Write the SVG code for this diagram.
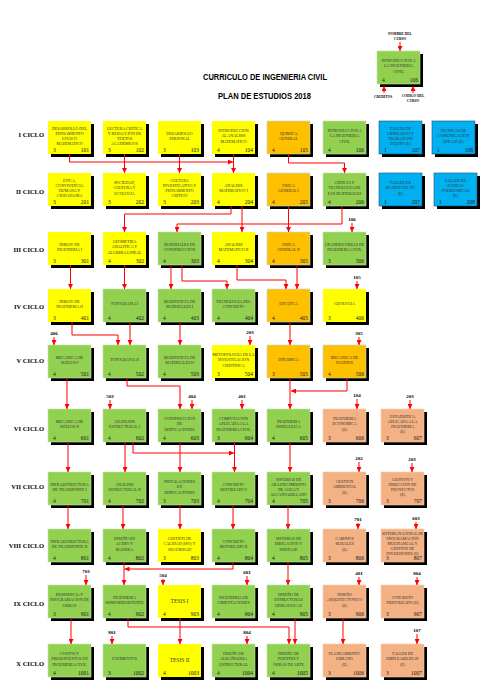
<svg xmlns="http://www.w3.org/2000/svg" width="495" height="696" viewBox="0 0 495 696">
<style>
.sh{fill:#000}
.y{fill:#FFFF00}
.o{fill:#FFC000;stroke:#BDD7EE;stroke-width:0.6}
.g{fill:#92D050;stroke:#C5E0B4;stroke-width:0.6}
.b{fill:#00B0F0;stroke:#1F4E79;stroke-width:0.6}
.s{fill:#F4B183;stroke:#F8CBAD;stroke-width:0.6}
text{font-family:"Liberation Serif","Times New Roman",serif}
.n{font-size:4px;fill:#333;text-anchor:middle}
.t{font-size:5.5px;fill:#333;text-anchor:middle}
.cr{font-size:5.5px;fill:#222}
.cd{font-size:5.5px;fill:#222;text-anchor:end}
.cy{font-size:6.5px;font-weight:bold;fill:#000;text-anchor:end}
.pl{font-size:5px;font-weight:bold;fill:#000;text-anchor:middle}
.lg{font-size:3.5px;font-weight:bold;fill:#000;text-anchor:middle}
.ti{font-family:"Liberation Sans",Arial,sans-serif;font-size:9.5px;font-weight:bold;fill:#000}
.ln{fill:none;stroke:#FF0000;stroke-width:1;marker-end:url(#ah)}
</style>
<defs>
<marker id="ah" markerUnits="userSpaceOnUse" markerWidth="5" markerHeight="5" refX="5" refY="2.5" orient="auto"><path d="M0,0 L5,2.5 L0,5 z" fill="#FF0000"/></marker>
</defs>
<rect width="495" height="696" fill="#fff"/>

<g id="titles">
<text class="ti" x="203" y="80" textLength="124" lengthAdjust="spacingAndGlyphs">CURRICULO DE INGENIERIA CIVIL</text>
<text class="ti" x="218" y="99" textLength="93" lengthAdjust="spacingAndGlyphs">PLAN DE ESTUDIOS 2018</text>
</g>

<g id="legend">
<text class="lg" x="400" y="35">NOMBRE DEL</text><text class="lg" x="400" y="40">CURSO</text>
<rect class="sh" x="380" y="54" width="43" height="33"/><rect class="g" x="377" y="51" width="43" height="33"/>
<text class="n"><tspan x="398.5" y="62.2">INTRODUCCION A</tspan><tspan x="398.5" y="67.4">LA INGENIERIA</tspan><tspan x="398.5" y="72.6">CIVIL</tspan></text>
<text class="cr" x="382" y="81.5">4</text><text class="cd" x="418" y="81.5">106</text>
<text class="lg" x="383" y="98">CREDITOS</text>
<text class="lg" x="413" y="97">CODIGO DEL</text><text class="lg" x="413" y="102">CURSO</text>
</g>

<g id="cycles">
<text class="cy" x="44" y="137">I CICLO</text>
<text class="cy" x="44" y="194">II CICLO</text>
<text class="cy" x="44" y="252">III CICLO</text>
<text class="cy" x="44" y="309">IV CICLO</text>
<text class="cy" x="44" y="363">V CICLO</text>
<text class="cy" x="44" y="431">VI CICLO</text>
<text class="cy" x="44" y="489">VII CICLO</text>
<text class="cy" x="44" y="548">VIII CICLO</text>
<text class="cy" x="44" y="606">IX CICLO</text>
<text class="cy" x="44" y="666">X CICLO</text>
</g>

<!-- Row I -->
<g id="n101"><rect class="sh" x="51" y="124" width="43" height="33"/><rect class="y" x="48" y="121" width="43" height="33"/><text class="n"><tspan x="69.5" y="129.6">DESARROLLO DEL</tspan><tspan x="69.5" y="134.8">PENSAMIENTO</tspan><tspan x="69.5" y="140">LOGICO</tspan><tspan x="69.5" y="145.2">MATEMATICO</tspan></text><text class="cr" x="53" y="151.5">3</text><text class="cd" x="89" y="151.5">101</text></g>
<g id="n102"><rect class="sh" x="106" y="124" width="43" height="33"/><rect class="y" x="103" y="121" width="43" height="33"/><text class="n"><tspan x="124.5" y="129.6">LECTURA CRÍTICA</tspan><tspan x="124.5" y="134.8">Y REDACCIÓN DE</tspan><tspan x="124.5" y="140">TEXTOS</tspan><tspan x="124.5" y="145.2">ACADÉMICOS</tspan></text><text class="cr" x="108" y="151.5">3</text><text class="cd" x="144" y="151.5">102</text></g>
<g id="n103"><rect class="sh" x="161" y="124" width="43" height="33"/><rect class="y" x="158" y="121" width="43" height="33"/><text class="n"><tspan x="179.5" y="134.8">DESARROLLO</tspan><tspan x="179.5" y="140">PERSONAL</tspan></text><text class="cr" x="163" y="151.5">3</text><text class="cd" x="199" y="151.5">103</text></g>
<g id="n104"><rect class="sh" x="215" y="124" width="43" height="33"/><rect class="y" x="212" y="121" width="43" height="33"/><text class="n"><tspan x="233.5" y="132.2">INTRODUCCION</tspan><tspan x="233.5" y="137.4">AL ANALISIS</tspan><tspan x="233.5" y="142.6">MATEMATICO</tspan></text><text class="cr" x="217" y="151.5">4</text><text class="cd" x="253" y="151.5">104</text></g>
<g id="n105"><rect class="sh" x="270" y="124" width="43" height="33"/><rect class="o" x="267" y="121" width="43" height="33"/><text class="n"><tspan x="288.5" y="134.8">QUIMICA</tspan><tspan x="288.5" y="140">GENERAL</tspan></text><text class="cr" x="272" y="151.5">4</text><text class="cd" x="308" y="151.5">105</text></g>
<g id="n106"><rect class="sh" x="326" y="124" width="43" height="33"/><rect class="g" x="323" y="121" width="43" height="33"/><text class="n"><tspan x="344.5" y="132.2">INTRODUCCION A</tspan><tspan x="344.5" y="137.4">LA INGENIERIA</tspan><tspan x="344.5" y="142.6">CIVIL</tspan></text><text class="cr" x="328" y="151.5">4</text><text class="cd" x="364" y="151.5">106</text></g>
<g id="n107"><rect class="sh" x="382" y="124" width="43" height="33"/><rect class="b" x="379" y="121" width="43" height="33"/><text class="n"><tspan x="400.5" y="129.6">TALLER DE</tspan><tspan x="400.5" y="134.8">LIDERAZGO Y</tspan><tspan x="400.5" y="140">TRABAJO EN</tspan><tspan x="400.5" y="145.2">EQUIPO (E)</tspan></text><text class="cr" x="384" y="151.5">1</text><text class="cd" x="420" y="151.5">107</text></g>
<g id="n108"><rect class="sh" x="435" y="124" width="43" height="33"/><rect class="b" x="432" y="121" width="43" height="33"/><text class="n"><tspan x="453.5" y="132.2">TECNICAS DE</tspan><tspan x="453.5" y="137.4">COMUNICACION</tspan><tspan x="453.5" y="142.6">EFICAZ (E)</tspan></text><text class="cr" x="437" y="151.5">1</text><text class="cd" x="473" y="151.5">108</text></g>

<!-- Row II -->
<g id="n201"><rect class="sh" x="51" y="176" width="43" height="33"/><rect class="y" x="48" y="173" width="43" height="33"/><text class="n"><tspan x="69.5" y="181.6">ÉTICA,</tspan><tspan x="69.5" y="186.8">CONVIVENCIA</tspan><tspan x="69.5" y="192">HUMANA Y</tspan><tspan x="69.5" y="197.2">CIUDADANÍA</tspan></text><text class="cr" x="53" y="203.5">3</text><text class="cd" x="89" y="203.5">201</text></g>
<g id="n202"><rect class="sh" x="106" y="176" width="43" height="33"/><rect class="y" x="103" y="173" width="43" height="33"/><text class="n"><tspan x="124.5" y="184.2">SOCIEDAD,</tspan><tspan x="124.5" y="189.4">CULTURA Y</tspan><tspan x="124.5" y="194.6">ECOLOGÍA</tspan></text><text class="cr" x="108" y="203.5">3</text><text class="cd" x="144" y="203.5">202</text></g>
<g id="n203"><rect class="sh" x="161" y="176" width="43" height="33"/><rect class="y" x="158" y="173" width="43" height="33"/><text class="n"><tspan x="179.5" y="181.6">CULTURA</tspan><tspan x="179.5" y="186.8">INVESTIGATIVA Y</tspan><tspan x="179.5" y="192">PENSAMIENTO</tspan><tspan x="179.5" y="197.2">CRÍTICO</tspan></text><text class="cr" x="163" y="203.5">3</text><text class="cd" x="199" y="203.5">203</text></g>
<g id="n204"><rect class="sh" x="215" y="176" width="43" height="33"/><rect class="y" x="212" y="173" width="43" height="33"/><text class="n"><tspan x="233.5" y="186.8">ANALISIS</tspan><tspan x="233.5" y="192">MATEMATICO I</tspan></text><text class="cr" x="217" y="203.5">4</text><text class="cd" x="253" y="203.5">204</text></g>
<g id="n205"><rect class="sh" x="270" y="176" width="43" height="33"/><rect class="o" x="267" y="173" width="43" height="33"/><text class="n"><tspan x="288.5" y="186.8">FISICA</tspan><tspan x="288.5" y="192">GENERAL I</tspan></text><text class="cr" x="272" y="203.5">4</text><text class="cd" x="308" y="203.5">205</text></g>
<g id="n206"><rect class="sh" x="326" y="176" width="43" height="33"/><rect class="g" x="323" y="173" width="43" height="33"/><text class="n"><tspan x="344.5" y="184.2">CIENCIA Y</tspan><tspan x="344.5" y="189.4">TECNOLOGÍA DE</tspan><tspan x="344.5" y="194.6">LOS MATERIALES</tspan></text><text class="cr" x="328" y="203.5">4</text><text class="cd" x="364" y="203.5">206</text></g>
<g id="n207"><rect class="sh" x="382" y="176" width="43" height="33"/><rect class="b" x="379" y="173" width="43" height="33"/><text class="n"><tspan x="400.5" y="184.2">TALLER DE</tspan><tspan x="400.5" y="189.4">MANEJO DE TIC</tspan><tspan x="400.5" y="194.6">(E)</tspan></text><text class="cr" x="384" y="203.5">1</text><text class="cd" x="420" y="203.5">207</text></g>
<g id="n208"><rect class="sh" x="437" y="176" width="43" height="33"/><rect class="b" x="434" y="173" width="43" height="33"/><text class="n"><tspan x="455.5" y="181.6">TALLER DE</tspan><tspan x="455.5" y="186.8">DANZAS</tspan><tspan x="455.5" y="192">FOLKLORICAS</tspan><tspan x="455.5" y="197.2">(E)</tspan></text><text class="cr" x="439" y="203.5">1</text><text class="cd" x="475" y="203.5">208</text></g>

<!-- Row III -->
<g id="n301"><rect class="sh" x="51" y="235" width="43" height="33"/><rect class="y" x="48" y="232" width="43" height="33"/><text class="n"><tspan x="69.5" y="245.8">DIBUJO DE</tspan><tspan x="69.5" y="251">INGENIERIA I</tspan></text><text class="cr" x="53" y="262.5">3</text><text class="cd" x="89" y="262.5">301</text></g>
<g id="n302"><rect class="sh" x="106" y="235" width="43" height="33"/><rect class="y" x="103" y="232" width="43" height="33"/><text class="n"><tspan x="124.5" y="243.2">GEOMETRIA</tspan><tspan x="124.5" y="248.4">ANALITICA Y</tspan><tspan x="124.5" y="253.6">ALGEBRA LINEAL</tspan></text><text class="cr" x="108" y="262.5">4</text><text class="cd" x="144" y="262.5">302</text></g>
<g id="n303"><rect class="sh" x="161" y="235" width="43" height="33"/><rect class="g" x="158" y="232" width="43" height="33"/><text class="n"><tspan x="179.5" y="245.8">MATERIALES DE</tspan><tspan x="179.5" y="251">CONSTRUCCION</tspan></text><text class="cr" x="163" y="262.5">4</text><text class="cd" x="199" y="262.5">303</text></g>
<g id="n304"><rect class="sh" x="215" y="235" width="43" height="33"/><rect class="y" x="212" y="232" width="43" height="33"/><text class="n"><tspan x="233.5" y="245.8">ANALISIS</tspan><tspan x="233.5" y="251">MATEMATICO II</tspan></text><text class="cr" x="217" y="262.5">4</text><text class="cd" x="253" y="262.5">304</text></g>
<g id="n305"><rect class="sh" x="270" y="235" width="43" height="33"/><rect class="o" x="267" y="232" width="43" height="33"/><text class="n"><tspan x="288.5" y="245.8">FISICA</tspan><tspan x="288.5" y="251">GENERAL II</tspan></text><text class="cr" x="272" y="262.5">4</text><text class="cd" x="308" y="262.5">305</text></g>
<g id="n306"><rect class="sh" x="326" y="235" width="43" height="33"/><rect class="g" x="323" y="232" width="43" height="33"/><text class="n"><tspan x="344.5" y="245.8">GRANDES OBRAS DE</tspan><tspan x="344.5" y="251">INGENIERIA CIVIL</tspan></text><text class="cr" x="328" y="262.5">3</text><text class="cd" x="364" y="262.5">306</text></g>

<!-- Row IV -->
<g id="n401"><rect class="sh" x="51" y="292" width="43" height="33"/><rect class="y" x="48" y="289" width="43" height="33"/><text class="n"><tspan x="69.5" y="302.8">DIBUJO DE</tspan><tspan x="69.5" y="308">INGENIERIA II</tspan></text><text class="cr" x="53" y="319.5">3</text><text class="cd" x="89" y="319.5">401</text></g>
<g id="n402"><rect class="sh" x="106" y="292" width="43" height="33"/><rect class="g" x="103" y="289" width="43" height="33"/><text class="n"><tspan x="124.5" y="305.4">TOPOGRAFIA I</tspan></text><text class="cr" x="108" y="319.5">4</text><text class="cd" x="144" y="319.5">402</text></g>
<g id="n403"><rect class="sh" x="161" y="292" width="43" height="33"/><rect class="g" x="158" y="289" width="43" height="33"/><text class="n"><tspan x="179.5" y="302.8">RESISTENCIA DE</tspan><tspan x="179.5" y="308">MATERIALES I</tspan></text><text class="cr" x="163" y="319.5">4</text><text class="cd" x="199" y="319.5">403</text></g>
<g id="n404"><rect class="sh" x="215" y="292" width="43" height="33"/><rect class="g" x="212" y="289" width="43" height="33"/><text class="n"><tspan x="233.5" y="302.8">TECNOLOGIA DEL</tspan><tspan x="233.5" y="308">CONCRETO</tspan></text><text class="cr" x="217" y="319.5">4</text><text class="cd" x="253" y="319.5">404</text></g>
<g id="n405"><rect class="sh" x="270" y="292" width="43" height="33"/><rect class="o" x="267" y="289" width="43" height="33"/><text class="n"><tspan x="288.5" y="305.4">ESTATICA</tspan></text><text class="cr" x="272" y="319.5">4</text><text class="cd" x="308" y="319.5">405</text></g>
<g id="n406"><rect class="sh" x="326" y="292" width="43" height="33"/><rect class="y" x="323" y="289" width="43" height="33"/><text class="n"><tspan x="344.5" y="305.4">GEOLOGIA</tspan></text><text class="cr" x="328" y="319.5">3</text><text class="cd" x="364" y="319.5">406</text></g>

<!-- Row V -->
<g id="n501"><rect class="sh" x="51" y="348" width="43" height="33"/><rect class="g" x="48" y="345" width="43" height="33"/><text class="n"><tspan x="69.5" y="358.8">MECANICA DE</tspan><tspan x="69.5" y="364">SUELOS I</tspan></text><text class="cr" x="53" y="375.5">4</text><text class="cd" x="89" y="375.5">501</text></g>
<g id="n502"><rect class="sh" x="106" y="348" width="43" height="33"/><rect class="g" x="103" y="345" width="43" height="33"/><text class="n"><tspan x="124.5" y="361.4">TOPOGRAFIA II</tspan></text><text class="cr" x="108" y="375.5">4</text><text class="cd" x="144" y="375.5">502</text></g>
<g id="n503"><rect class="sh" x="161" y="348" width="43" height="33"/><rect class="g" x="158" y="345" width="43" height="33"/><text class="n"><tspan x="179.5" y="358.8">RESISTENCIA DE</tspan><tspan x="179.5" y="364">MATERIALES II</tspan></text><text class="cr" x="163" y="375.5">4</text><text class="cd" x="199" y="375.5">503</text></g>
<g id="n504"><rect class="sh" x="215" y="348" width="43" height="33"/><rect class="y" x="212" y="345" width="43" height="33"/><text class="n"><tspan x="233.5" y="356.2">METODOLOGIA DE LA</tspan><tspan x="233.5" y="361.4">INVESTIGACION</tspan><tspan x="233.5" y="366.6">CIENTIFICA</tspan></text><text class="cr" x="217" y="375.5">3</text><text class="cd" x="253" y="375.5">504</text></g>
<g id="n505"><rect class="sh" x="270" y="348" width="43" height="33"/><rect class="o" x="267" y="345" width="43" height="33"/><text class="n"><tspan x="288.5" y="361.4">DINAMICA</tspan></text><text class="cr" x="272" y="375.5">3</text><text class="cd" x="308" y="375.5">505</text></g>
<g id="n506"><rect class="sh" x="326" y="348" width="43" height="33"/><rect class="o" x="323" y="345" width="43" height="33"/><text class="n"><tspan x="344.5" y="358.8">MECANICA DE</tspan><tspan x="344.5" y="364">FLUIDOS</tspan></text><text class="cr" x="328" y="375.5">4</text><text class="cd" x="364" y="375.5">506</text></g>

<!-- Row VI -->
<g id="n601"><rect class="sh" x="51" y="412" width="43" height="33"/><rect class="g" x="48" y="409" width="43" height="33"/><text class="n"><tspan x="69.5" y="422.8">MECANICA DE</tspan><tspan x="69.5" y="428">SUELOS II</tspan></text><text class="cr" x="53" y="439.5">4</text><text class="cd" x="89" y="439.5">601</text></g>
<g id="n602"><rect class="sh" x="106" y="412" width="43" height="33"/><rect class="g" x="103" y="409" width="43" height="33"/><text class="n"><tspan x="124.5" y="422.8">ANANLISIS</tspan><tspan x="124.5" y="428">ESTRUCTURAL I</tspan></text><text class="cr" x="108" y="439.5">4</text><text class="cd" x="144" y="439.5">602</text></g>
<g id="n603"><rect class="sh" x="161" y="412" width="43" height="33"/><rect class="g" x="158" y="409" width="43" height="33"/><text class="n"><tspan x="179.5" y="420.2">CONSTRUCCION</tspan><tspan x="179.5" y="425.4">DE</tspan><tspan x="179.5" y="430.6">EDIFICACIONES</tspan></text><text class="cr" x="163" y="439.5">4</text><text class="cd" x="199" y="439.5">603</text></g>
<g id="n604"><rect class="sh" x="215" y="412" width="43" height="33"/><rect class="g" x="212" y="409" width="43" height="33"/><text class="n"><tspan x="233.5" y="420.2">COMPUTACION</tspan><tspan x="233.5" y="425.4">APLICADA A LA</tspan><tspan x="233.5" y="430.6">INGENIERIA CIVIL</tspan></text><text class="cr" x="217" y="439.5">3</text><text class="cd" x="253" y="439.5">604</text></g>
<g id="n605"><rect class="sh" x="270" y="412" width="43" height="33"/><rect class="g" x="267" y="409" width="43" height="33"/><text class="n"><tspan x="288.5" y="422.8">INGENIERIA</tspan><tspan x="288.5" y="428">HIDRAULICA</tspan></text><text class="cr" x="272" y="439.5">4</text><text class="cd" x="308" y="439.5">605</text></g>
<g id="n606"><rect class="sh" x="326" y="412" width="43" height="33"/><rect class="s" x="323" y="409" width="43" height="33"/><text class="n"><tspan x="344.5" y="420.2">INGENIERIA</tspan><tspan x="344.5" y="425.4">ECONOMICA</tspan><tspan x="344.5" y="430.6">(E)</tspan></text><text class="cr" x="328" y="439.5">3</text><text class="cd" x="364" y="439.5">606</text></g>
<g id="n607"><rect class="sh" x="384" y="412" width="43" height="33"/><rect class="s" x="381" y="409" width="43" height="33"/><text class="n"><tspan x="402.5" y="417.6">ESTADISTICA</tspan><tspan x="402.5" y="422.8">APLICADA A LA</tspan><tspan x="402.5" y="428">INGENIERIA</tspan><tspan x="402.5" y="433.2">(E)</tspan></text><text class="cr" x="386" y="439.5">3</text><text class="cd" x="422" y="439.5">607</text></g>

<!-- Row VII -->
<g id="n701"><rect class="sh" x="51" y="475" width="43" height="33"/><rect class="g" x="48" y="472" width="43" height="33"/><text class="n"><tspan x="69.5" y="485.8">INFRAESTRUCTURA</tspan><tspan x="69.5" y="491">DE TRANSPORTE I</tspan></text><text class="cr" x="53" y="502.5">4</text><text class="cd" x="89" y="502.5">701</text></g>
<g id="n702"><rect class="sh" x="106" y="475" width="43" height="33"/><rect class="g" x="103" y="472" width="43" height="33"/><text class="n"><tspan x="124.5" y="485.8">ANALISIS</tspan><tspan x="124.5" y="491">ESTRUCTURAL II</tspan></text><text class="cr" x="108" y="502.5">4</text><text class="cd" x="144" y="502.5">702</text></g>
<g id="n703"><rect class="sh" x="161" y="475" width="43" height="33"/><rect class="g" x="158" y="472" width="43" height="33"/><text class="n"><tspan x="179.5" y="483.2">INSTALACIONES</tspan><tspan x="179.5" y="488.4">EN</tspan><tspan x="179.5" y="493.6">EDIFICACIONES</tspan></text><text class="cr" x="163" y="502.5">3</text><text class="cd" x="199" y="502.5">703</text></g>
<g id="n704"><rect class="sh" x="215" y="475" width="43" height="33"/><rect class="g" x="212" y="472" width="43" height="33"/><text class="n"><tspan x="233.5" y="485.8">CONCRETO</tspan><tspan x="233.5" y="491">REFORZADO I</tspan></text><text class="cr" x="217" y="502.5">4</text><text class="cd" x="253" y="502.5">704</text></g>
<g id="n705"><rect class="sh" x="270" y="475" width="43" height="33"/><rect class="g" x="267" y="472" width="43" height="33"/><text class="n"><tspan x="288.5" y="480.6">SISTEMAS DE</tspan><tspan x="288.5" y="485.8">ABASTECIMIENTO</tspan><tspan x="288.5" y="491">DE AGUA Y</tspan><tspan x="288.5" y="496.2">ALCANTARILLADO</tspan></text><text class="cr" x="272" y="502.5">4</text><text class="cd" x="308" y="502.5">705</text></g>
<g id="n706"><rect class="sh" x="326" y="475" width="43" height="33"/><rect class="s" x="323" y="472" width="43" height="33"/><text class="n"><tspan x="344.5" y="483.2">GESTION</tspan><tspan x="344.5" y="488.4">AMBIENTAL</tspan><tspan x="344.5" y="493.6">(E)</tspan></text><text class="cr" x="328" y="502.5">3</text><text class="cd" x="364" y="502.5">706</text></g>
<g id="n707"><rect class="sh" x="384" y="475" width="43" height="33"/><rect class="s" x="381" y="472" width="43" height="33"/><text class="n"><tspan x="402.5" y="480.6">GESTION Y</tspan><tspan x="402.5" y="485.8">DIRECCION DE</tspan><tspan x="402.5" y="491">PROYECTOS</tspan><tspan x="402.5" y="496.2">(E)</tspan></text><text class="cr" x="386" y="502.5">3</text><text class="cd" x="422" y="502.5">707</text></g>

<!-- Row VIII -->
<g id="n801"><rect class="sh" x="51" y="532" width="43" height="33"/><rect class="g" x="48" y="529" width="43" height="33"/><text class="n"><tspan x="69.5" y="542.8">INFRAESTRUCTURA</tspan><tspan x="69.5" y="548">DE TRANSPORTE II</tspan></text><text class="cr" x="53" y="559.5">4</text><text class="cd" x="89" y="559.5">801</text></g>
<g id="n802"><rect class="sh" x="106" y="532" width="43" height="33"/><rect class="g" x="103" y="529" width="43" height="33"/><text class="n"><tspan x="124.5" y="540.2">DISEÑO EN</tspan><tspan x="124.5" y="545.4">ACERO Y</tspan><tspan x="124.5" y="550.6">MADERA</tspan></text><text class="cr" x="108" y="559.5">4</text><text class="cd" x="144" y="559.5">802</text></g>
<g id="n803"><rect class="sh" x="161" y="532" width="43" height="33"/><rect class="y" x="158" y="529" width="43" height="33"/><text class="n"><tspan x="179.5" y="540.2">GESTIÓN DE</tspan><tspan x="179.5" y="545.4">CALIDAD (ISO) Y</tspan><tspan x="179.5" y="550.6">SEGURIDAD</tspan></text><text class="cr" x="163" y="559.5">3</text><text class="cd" x="199" y="559.5">803</text></g>
<g id="n804"><rect class="sh" x="215" y="532" width="43" height="33"/><rect class="g" x="212" y="529" width="43" height="33"/><text class="n"><tspan x="233.5" y="542.8">CONCRETO</tspan><tspan x="233.5" y="548">REFORZADO II</tspan></text><text class="cr" x="217" y="559.5">4</text><text class="cd" x="253" y="559.5">804</text></g>
<g id="n805"><rect class="sh" x="270" y="532" width="43" height="33"/><rect class="g" x="267" y="529" width="43" height="33"/><text class="n"><tspan x="288.5" y="540.2">SISTEMAS DE</tspan><tspan x="288.5" y="545.4">IRRIGACION Y</tspan><tspan x="288.5" y="550.6">DRENAJE</tspan></text><text class="cr" x="272" y="559.5">4</text><text class="cd" x="308" y="559.5">805</text></g>
<g id="n806"><rect class="sh" x="326" y="532" width="43" height="33"/><rect class="s" x="323" y="529" width="43" height="33"/><text class="n"><tspan x="344.5" y="540.2">CAMINOS</tspan><tspan x="344.5" y="545.4">RURALES</tspan><tspan x="344.5" y="550.6">(E)</tspan></text><text class="cr" x="328" y="559.5">3</text><text class="cd" x="364" y="559.5">806</text></g>
<g id="n807"><rect class="sh" x="384" y="532" width="43" height="33"/><rect class="s" x="381" y="529" width="43" height="33"/><text class="n"><tspan x="402.5" y="534.5" textLength="41" lengthAdjust="spacingAndGlyphs">SISTEMA NACIONAL DE</tspan><tspan x="402.5" y="539.5">PROGRAMACIÓN</tspan><tspan x="402.5" y="544.5">MULTIANUAL Y</tspan><tspan x="402.5" y="549.5">GESTIÓN DE</tspan><tspan x="402.5" y="554.5">INVERSIONES (E)</tspan></text><text class="cr" x="386" y="559.8">3</text><text class="cd" x="422" y="559.8">807</text></g>

<!-- Row IX -->
<g id="n901"><rect class="sh" x="51" y="588" width="43" height="33"/><rect class="g" x="48" y="585" width="43" height="33"/><text class="n"><tspan x="69.5" y="596.2">RESIDENCIA Y</tspan><tspan x="69.5" y="601.4">PROGRAMACION DE</tspan><tspan x="69.5" y="606.6">OBRAS</tspan></text><text class="cr" x="53" y="615.5">3</text><text class="cd" x="89" y="615.5">901</text></g>
<g id="n902"><rect class="sh" x="106" y="588" width="43" height="33"/><rect class="g" x="103" y="585" width="43" height="33"/><text class="n"><tspan x="124.5" y="598.8">INGENIERIA</tspan><tspan x="124.5" y="604">SISMORRESISTENTE</tspan></text><text class="cr" x="108" y="615.5">4</text><text class="cd" x="144" y="615.5">902</text></g>
<g id="n903"><rect class="sh" x="161" y="588" width="43" height="33"/><rect class="y" x="158" y="585" width="43" height="33"/><text class="t" x="179.5" y="603">TESIS I</text><text class="cr" x="163" y="615.5">4</text><text class="cd" x="199" y="615.5">903</text></g>
<g id="n904"><rect class="sh" x="215" y="588" width="43" height="33"/><rect class="g" x="212" y="585" width="43" height="33"/><text class="n"><tspan x="233.5" y="598.8">INGENIERIA DE</tspan><tspan x="233.5" y="604">CIMENTACIONES</tspan></text><text class="cr" x="217" y="615.5">4</text><text class="cd" x="253" y="615.5">904</text></g>
<g id="n905"><rect class="sh" x="270" y="588" width="43" height="33"/><rect class="g" x="267" y="585" width="43" height="33"/><text class="n"><tspan x="288.5" y="596.2">DISEÑO DE</tspan><tspan x="288.5" y="601.4">ESTRUCTURAS</tspan><tspan x="288.5" y="606.6">HIDRAULICAS</tspan></text><text class="cr" x="272" y="615.5">4</text><text class="cd" x="308" y="615.5">905</text></g>
<g id="n906"><rect class="sh" x="326" y="588" width="43" height="33"/><rect class="s" x="323" y="585" width="43" height="33"/><text class="n"><tspan x="344.5" y="596.2">DISEÑO</tspan><tspan x="344.5" y="601.4">ARQUITECTONICO</tspan><tspan x="344.5" y="606.6">(E)</tspan></text><text class="cr" x="328" y="615.5">3</text><text class="cd" x="364" y="615.5">906</text></g>
<g id="n907"><rect class="sh" x="384" y="588" width="43" height="33"/><rect class="s" x="381" y="585" width="43" height="33"/><text class="n"><tspan x="402.5" y="598.8">CONCRETO</tspan><tspan x="402.5" y="604">PREFORZADO (E)</tspan></text><text class="cr" x="386" y="615.5">3</text><text class="cd" x="422" y="615.5">907</text></g>

<!-- Row X -->
<g id="n1001"><rect class="sh" x="51" y="647" width="43" height="33"/><rect class="g" x="48" y="644" width="43" height="33"/><text class="n"><tspan x="69.5" y="655.2">COSTOS Y</tspan><tspan x="69.5" y="660.4">PRESUPUESTOS EN</tspan><tspan x="69.5" y="665.6">INGENIERIA CIVIL</tspan></text><text class="cr" x="53" y="674.5">4</text><text class="cd" x="89" y="674.5">1001</text></g>
<g id="n1002"><rect class="sh" x="106" y="647" width="43" height="33"/><rect class="g" x="103" y="644" width="43" height="33"/><text class="n"><tspan x="124.5" y="660.4">PAVIMENTOS</tspan></text><text class="cr" x="108" y="674.5">3</text><text class="cd" x="144" y="674.5">1002</text></g>
<g id="n1003"><rect class="sh" x="161" y="647" width="43" height="33"/><rect class="y" x="158" y="644" width="43" height="33"/><text class="t" x="179.5" y="662">TESIS II</text><text class="cr" x="163" y="674.5">4</text><text class="cd" x="199" y="674.5">1003</text></g>
<g id="n1004"><rect class="sh" x="215" y="647" width="43" height="33"/><rect class="g" x="212" y="644" width="43" height="33"/><text class="n"><tspan x="233.5" y="655.2">DISEÑO DE</tspan><tspan x="233.5" y="660.4">ALBAÑILERIA</tspan><tspan x="233.5" y="665.6">ESTRUCTURAL</tspan></text><text class="cr" x="217" y="674.5">4</text><text class="cd" x="253" y="674.5">1004</text></g>
<g id="n1005"><rect class="sh" x="270" y="647" width="43" height="33"/><rect class="g" x="267" y="644" width="43" height="33"/><text class="n"><tspan x="288.5" y="655.2">DISEÑO DE</tspan><tspan x="288.5" y="660.4">PUENTES Y</tspan><tspan x="288.5" y="665.6">OBRAS DE ARTE</tspan></text><text class="cr" x="272" y="674.5">4</text><text class="cd" x="308" y="674.5">1005</text></g>
<g id="n1006"><rect class="sh" x="326" y="647" width="43" height="33"/><rect class="s" x="323" y="644" width="43" height="33"/><text class="n"><tspan x="344.5" y="655.2">PLANEAMIENTO</tspan><tspan x="344.5" y="660.4">URBANO</tspan><tspan x="344.5" y="665.6">(E)</tspan></text><text class="cr" x="328" y="674.5">3</text><text class="cd" x="364" y="674.5">1006</text></g>
<g id="n1007"><rect class="sh" x="384" y="647" width="43" height="33"/><rect class="s" x="381" y="644" width="43" height="33"/><text class="n"><tspan x="402.5" y="655.2">TALLER DE</tspan><tspan x="402.5" y="660.4">EMPLEABILIDAD</tspan><tspan x="402.5" y="665.6">(E)</tspan></text><text class="cr" x="386" y="674.5">3</text><text class="cd" x="422" y="674.5">1007</text></g>

<g id="prereq-labels">
<text class="pl" x="352" y="221">106</text>
<text class="pl" x="357" y="279">105</text>
<text class="pl" x="54" y="335">406</text>
<text class="pl" x="250" y="334">203</text>
<text class="pl" x="359" y="335">305</text>
<text class="pl" x="110" y="398">503</text>
<text class="pl" x="192" y="398">404</text>
<text class="pl" x="242" y="398">401</text>
<text class="pl" x="357" y="397">104</text>
<text class="pl" x="410" y="398">203</text>
<text class="pl" x="359" y="460">202</text>
<text class="pl" x="412" y="461">203</text>
<text class="pl" x="358" y="521">701</text>
<text class="pl" x="416" y="520">603</text>
<text class="pl" x="86" y="573">703</text>
<text class="pl" x="163" y="577">504</text>
<text class="pl" x="247" y="574">601</text>
<text class="pl" x="359" y="575">401</text>
<text class="pl" x="417" y="575">804</text>
<text class="pl" x="112" y="634">801</text>
<text class="pl" x="247" y="634">804</text>
<text class="pl" x="417" y="632">107</text>
</g>

<g id="connectors">
<path class="ln" d="M400,42 V51"/>
<path class="ln" d="M384,93 V86"/>
<path class="ln" d="M413,93 V86"/>
<path class="ln" d="M69.5,154 V162 H233"/>
<path class="ln" d="M233.5,154 V173"/>
<path class="ln" d="M124.5,154 V173"/>
<path class="ln" d="M179.5,154 V173"/>
<path class="ln" d="M288.5,154 V163 H344.5 V173"/>
<path class="ln" d="M231,206 V214 H124.5 V232"/>
<path class="ln" d="M242,206 V232"/>
<path class="ln" d="M342,206 V224 H177 V232"/>
<path class="ln" d="M288.5,206 V232"/>
<path class="ln" d="M352,223 V232"/>
<path class="ln" d="M70.5,265 V289"/>
<path class="ln" d="M124.5,265 V289"/>
<path class="ln" d="M171,265 V289"/>
<path class="ln" d="M182,265 V281 H227 V289"/>
<path class="ln" d="M237,265 V280 H286 V289"/>
<path class="ln" d="M297,265 V289"/>
<path class="ln" d="M357,281 V289"/>
<path class="ln" d="M72,322 V335 H118 V345"/>
<path class="ln" d="M130,322 V345"/>
<path class="ln" d="M180,322 V345"/>
<path class="ln" d="M290,322 V345"/>
<path class="ln" d="M54,337 V345"/>
<path class="ln" d="M250,336 V345"/>
<path class="ln" d="M359,337 V345"/>
<path class="ln" d="M67,378 V409"/>
<path class="ln" d="M127,378 V386 H180 V409"/>
<path class="ln" d="M290,378 V409"/>
<path class="ln" d="M347,378 V391 H291"/>
<path class="ln" d="M110,400 V409"/>
<path class="ln" d="M192,400 V409"/>
<path class="ln" d="M242,400 V409"/>
<path class="ln" d="M357,399 V409"/>
<path class="ln" d="M410,400 V409"/>
<path class="ln" d="M68,442 V472"/>
<path class="ln" d="M125,442 V472"/>
<path class="ln" d="M133,442 V453 H234"/>
<path class="ln" d="M234.5,442 V472"/>
<path class="ln" d="M180,442 V472"/>
<path class="ln" d="M290,442 V472"/>
<path class="ln" d="M359,462 V472"/>
<path class="ln" d="M412,463 V472"/>
<path class="ln" d="M68,505 V529"/>
<path class="ln" d="M123,505 V529"/>
<path class="ln" d="M180,505 V529"/>
<path class="ln" d="M233,505 V529"/>
<path class="ln" d="M288,505 V529"/>
<path class="ln" d="M358,523 V529"/>
<path class="ln" d="M416,522 V529"/>
<path class="ln" d="M124,562 V585"/>
<path class="ln" d="M233,562 V569 H124.5"/>
<path class="ln" d="M86,575 V585"/>
<path class="ln" d="M163,579 V585"/>
<path class="ln" d="M247,576 V585"/>
<path class="ln" d="M288,562 V585"/>
<path class="ln" d="M359,577 V585"/>
<path class="ln" d="M417,577 V585"/>
<path class="ln" d="M71,618 V644"/>
<path class="ln" d="M128,618 V627 H289 V644"/>
<path class="ln" d="M295,618 V644"/>
<path class="ln" d="M180,618 V644"/>
<path class="ln" d="M112,636 V644"/>
<path class="ln" d="M247,636 V644"/>
<path class="ln" d="M343,618 V644"/>
<path class="ln" d="M417,634 V644"/>
</g>
</svg>
